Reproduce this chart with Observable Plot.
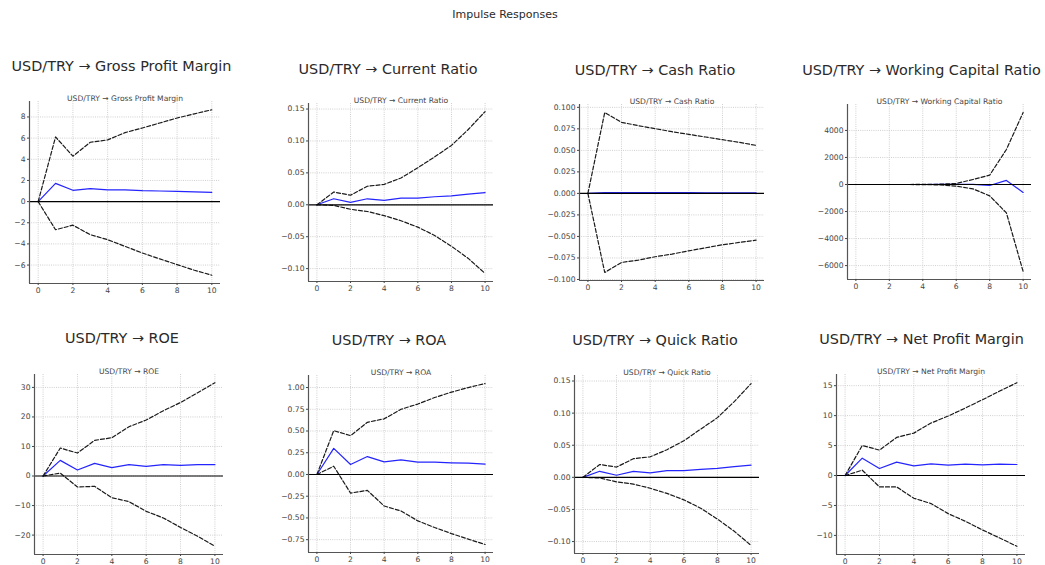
<!DOCTYPE html>
<html>
<head>
<meta charset="utf-8">
<script src="https://cdn.jsdelivr.net/npm/d3@7"></script>
<script src="https://cdn.jsdelivr.net/npm/@observablehq/plot@0.6"></script>
<style>
  body { margin: 0; background: #fff; }
  #fig { position: relative; width: 1045px; height: 565px; background: #fff;
         font-family: "DejaVu Sans", sans-serif; overflow: hidden; }
  .ttl { position: absolute; white-space: nowrap; transform: translate(-50%, -50%);
         color: #2a2a2a; line-height: 1; }
  .panel { position: absolute; }
</style>
</head>
<body>
<div id="fig"></div>
<script>
// Impulse responses of financial ratios to a USD/TRY shock, horizon 0..10
const shock = "USD/TRY";
const horizon = [0, 1, 2, 3, 4, 5, 6, 7, 8, 9, 10];
const xTicks = [0, 2, 4, 6, 8, 10];

const names = [
  "Gross Profit Margin", "Current Ratio", "Cash Ratio", "Working Capital Ratio",
  "ROE", "ROA", "Quick Ratio", "Net Profit Margin"
];

// point response
const irfGross   = [0, 1.72, 1.07, 1.22, 1.10, 1.10, 1.03, 1.00, 0.97, 0.91, 0.88];
const irfCurrent = [0, 0.0094, 0.0037, 0.0094, 0.0068, 0.0105, 0.0105, 0.0126, 0.0140, 0.0168, 0.0190];
const irfCash    = [0, 0.0008, 0.0010, 0.0009, 0.0009, 0.0008, 0.0008, 0.0007, 0.0007, 0.0006, 0.0006];
const irfWorking = [0, 0, 0, 0, 0, 2, 5, 10, -75, 300, -590];
const irfROE     = [0, 5.3, 2.03, 4.29, 2.82, 3.83, 3.27, 3.83, 3.60, 3.83, 3.83];
const irfROA     = [0, 0.300, 0.115, 0.206, 0.145, 0.168, 0.141, 0.141, 0.134, 0.130, 0.118];
const irfQuick   = [0, 0.0094, 0.0032, 0.0092, 0.0070, 0.0104, 0.0106, 0.0125, 0.0141, 0.0167, 0.0190];
const irfNet     = [0, 2.90, 1.17, 2.23, 1.62, 1.95, 1.73, 1.90, 1.78, 1.90, 1.84];

// lower confidence bound
const loGross   = [0, -2.66, -2.23, -3.13, -3.60, -4.23, -4.86, -5.42, -5.96, -6.49, -6.96];
const loCurrent = [0, -0.001, -0.007, -0.0105, -0.017, -0.025, -0.035, -0.048, -0.065, -0.084, -0.1075];
const loCash    = [0, -0.0919, -0.0802, -0.0775, -0.0736, -0.0705, -0.0667, -0.0632, -0.0597, -0.0570, -0.0543];
const loWorking = [0, 0, 0, 0, -5, -30, -120, -320, -840, -2100, -6440];
const loROE     = [0, 1.0, -3.72, -3.5, -7.33, -8.68, -11.95, -14.2, -17.4, -20.4, -23.8];
const loROA     = [0, 0.095, -0.214, -0.183, -0.363, -0.420, -0.534, -0.610, -0.680, -0.744, -0.805];
const loQuick   = [0, -0.001, -0.007, -0.0105, -0.017, -0.025, -0.035, -0.048, -0.065, -0.084, -0.106];
const loNet     = [0, 0.89, -1.9, -1.9, -3.79, -4.68, -6.36, -7.64, -9.09, -10.43, -11.82];

// upper confidence bound
const upGross   = [0, 6.11, 4.29, 5.61, 5.83, 6.52, 6.96, 7.43, 7.90, 8.30, 8.68];
const upCurrent = [0, 0.020, 0.015, 0.029, 0.032, 0.042, 0.058, 0.075, 0.093, 0.118, 0.146];
const upCash    = [0, 0.0940, 0.0826, 0.0787, 0.0752, 0.0717, 0.0686, 0.0655, 0.0624, 0.0593, 0.0558];
const upWorking = [0, 0, 0, 0, 5, 20, 75, 370, 690, 2590, 5330];
const upROE     = [0, 9.47, 7.78, 12.07, 12.97, 16.7, 18.95, 22.1, 24.9, 28.2, 31.6];
const upROA     = [0, 0.504, 0.447, 0.600, 0.640, 0.750, 0.810, 0.885, 0.947, 1.000, 1.046];
const upQuick   = [0, 0.020, 0.016, 0.029, 0.032, 0.043, 0.057, 0.075, 0.093, 0.118, 0.146];
const upNet     = [0, 5.02, 4.24, 6.36, 7.08, 8.76, 9.93, 11.27, 12.66, 14.10, 15.50];

// y tick values per panel
const yTicksGross   = [-6, -4, -2, 0, 2, 4, 6, 8];
const yTicksCurrent = [-0.10, -0.05, 0, 0.05, 0.10, 0.15];
const yTicksCash    = [-0.100, -0.075, -0.050, -0.025, 0, 0.025, 0.050, 0.075, 0.100];
const yTicksWorking = [-6000, -4000, -2000, 0, 2000, 4000];
const yTicksROE     = [-20, -10, 0, 10, 20, 30];
const yTicksROA     = [-0.75, -0.50, -0.25, 0, 0.25, 0.50, 0.75, 1.00];
const yTicksQuick   = [-0.10, -0.05, 0, 0.05, 0.10, 0.15];
const yTicksNet     = [-10, -5, 0, 5, 10, 15];

const series = [
  {irf: irfGross,   lo: loGross,   up: upGross,   ticks: yTicksGross,   fmt: "d"},
  {irf: irfCurrent, lo: loCurrent, up: upCurrent, ticks: yTicksCurrent, fmt: ".2f"},
  {irf: irfCash,    lo: loCash,    up: upCash,    ticks: yTicksCash,    fmt: ".3f"},
  {irf: irfWorking, lo: loWorking, up: upWorking, ticks: yTicksWorking, fmt: "d"},
  {irf: irfROE,     lo: loROE,     up: upROE,     ticks: yTicksROE,     fmt: "d"},
  {irf: irfROA,     lo: loROA,     up: upROA,     ticks: yTicksROA,     fmt: ".2f"},
  {irf: irfQuick,   lo: loQuick,   up: upQuick,   ticks: yTicksQuick,   fmt: ".2f"},
  {irf: irfNet,     lo: loNet,     up: upNet,     ticks: yTicksNet,     fmt: "d"}
];

// page layout: plot frame edges and heading centres, in page pixels
const frames = [
  {L: 29,  T: 101, R: 220,  B: 283, tx: 121.5, ty: 66},
  {L: 308, T: 103, R: 493,  B: 281, tx: 388,   ty: 69},
  {L: 579, T: 104, R: 764,  B: 280, tx: 655,   ty: 70},
  {L: 847, T: 104, R: 1031, B: 279, tx: 921.5, ty: 70},
  {L: 34,  T: 374, R: 223,  B: 554, tx: 122,   ty: 338},
  {L: 308, T: 375, R: 493,  B: 552, tx: 389,   ty: 340},
  {L: 574, T: 375, R: 759,  B: 553, tx: 655,   ty: 340},
  {L: 836, T: 374, R: 1025, B: 554, tx: 921.5, ty: 339}
];

const fig = document.getElementById("fig");

function addText(txt, x, y, size) {
  const d = document.createElement("div");
  d.className = "ttl";
  d.textContent = txt;
  d.style.left = x + "px";
  d.style.top = y + "px";
  d.style.fontSize = size + "px";
  fig.appendChild(d);
}

addText("Impulse Responses", 505, 14, 11);

const ml = 38, mr = 8, mt = 16, mb = 18;

names.forEach((name, k) => {
  const s = series[k];
  const f = frames[k];
  const title = `${shock} → ${name}`;
  const rows = horizon.map((h, i) => ({h, irf: s.irf[i], lo: s.lo[i], up: s.up[i]}));
  const [mn, mx] = d3.extent(s.irf.concat(s.lo, s.up));
  const pad = (mx - mn) * 0.05;
  const yDom = [mn - pad, mx + pad];
  const xDom = [-0.5, 10.5];

  const svg = Plot.plot({
    width: f.R - f.L + ml + mr,
    height: f.B - f.T + mt + mb,
    marginLeft: ml, marginRight: mr, marginTop: mt, marginBottom: mb,
    x: {domain: xDom, label: null},
    y: {domain: yDom, label: null},
    style: {fontFamily: "DejaVu Sans", fontSize: "7.6px", color: "#444",
            background: "transparent", overflow: "visible"},
    marks: [
      Plot.gridX(xTicks, {stroke: "#cfcfcf", strokeOpacity: 1, strokeDasharray: "1,1.2"}),
      Plot.gridY(s.ticks, {stroke: "#cfcfcf", strokeOpacity: 1, strokeDasharray: "1,1.2"}),
      Plot.line(rows, {x: "h", y: "irf", stroke: "#2424ff", strokeWidth: 1.2}),
      Plot.line(rows, {x: "h", y: "up", stroke: "#1a1a1a", strokeWidth: 1.2, strokeDasharray: "4,2"}),
      Plot.line(rows, {x: "h", y: "lo", stroke: "#1a1a1a", strokeWidth: 1.2, strokeDasharray: "4,2"}),
      Plot.ruleY([0], {stroke: "black", strokeWidth: 1.2}),
      Plot.ruleX([xDom[0]], {stroke: "#555", strokeWidth: 1.2}),
      Plot.ruleY([yDom[0]], {stroke: "#555", strokeWidth: 1.2}),
      Plot.axisX(xTicks, {tickSize: 2, tickPadding: 2, tickFormat: "d", label: null}),
      Plot.axisY(s.ticks, {tickSize: 2, tickPadding: 2, tickFormat: d3.format(s.fmt), label: null}),
      Plot.text([title], {frameAnchor: "top", dy: -6, fontSize: 7.6, fill: "#444"})
    ]
  });
  svg.classList.add("panel");
  svg.style.left = (f.L - ml) + "px";
  svg.style.top = (f.T - mt) + "px";
  fig.appendChild(svg);

  addText(title, f.tx, f.ty, 14.4);
});
</script>
</body>
</html>
